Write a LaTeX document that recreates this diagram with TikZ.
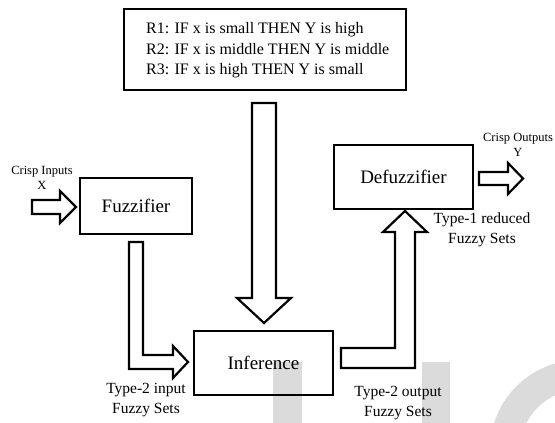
\documentclass[tikz,border=0pt]{standalone}
\usepackage{fontspec}
\setmainfont{Liberation Serif}
\begin{document}
\begin{tikzpicture}[x=1pt,y=-1pt,
  box/.style={draw=black,line width=2.6pt,minimum width=#1,inner sep=0pt},
  blk/.style={draw=black,line width=2.2pt,fill=white,line join=miter},
  wm/.style={fill=black!14,draw=none},
  lbl/.style={font=\fontsize{15.5}{20}\selectfont,align=center,inner sep=0pt},
  sml/.style={font=\fontsize{12.5}{15}\selectfont,align=center,inner sep=0pt}]
\useasboundingbox (0,0) rectangle (555,423);
% watermark
\fill[wm] (273,362) rectangle (302,423);
\fill[wm] (422,362) rectangle (450,423);
\begin{scope}
\clip (0,0) rectangle (555,423);
\fill[wm,even odd rule] (580,450) circle[radius=90] (580,450) circle[radius=60];
\end{scope}
% boxes
\node[box=282pt,minimum height=81pt] (rules) at (265,49.5) {};
\node[align=left,anchor=west,inner sep=0pt,font=\fontsize{16}{20.5}\selectfont] (rtext) at (146,50.5)
  {R1: IF x is small THEN Y is high\\R2: IF x is middle THEN Y is middle\\R3: IF x is high THEN Y is small};
\node[box=112pt,minimum height=56pt,font=\fontsize{19}{22}\selectfont] (fuzz) at (136,206) {Fuzzifier};
\node[box=139pt,minimum height=64pt,font=\fontsize{19}{22}\selectfont] (inf) at (263.5,363) {Inference};
\node[box=139pt,minimum height=64pt,font=\fontsize{19}{22}\selectfont] (defuz) at (403.5,177) {Defuzzifier};
% labels
\node[sml] (cin) at (42,178) {Crisp Inputs\\X};
\node[sml] (cout) at (518,145) {Crisp Outputs\\Y};
\node[lbl] (t1) at (482,229.5) {Type-1 reduced\\Fuzzy Sets};
\node[lbl] (t2i) at (146,400.5) {Type-2 input\\Fuzzy Sets};
\node[lbl] (t2o) at (398,403) {Type-2 output\\Fuzzy Sets};
% block arrows
\draw[blk] (32,200) -- (60,200) -- (60,191) -- (76,207) -- (60,223) -- (60,214) -- (32,214) -- cycle;
\draw[blk] (479,172) -- (508,172) -- (508,163) -- (523,178.5) -- (508,194) -- (508,185) -- (479,185) -- cycle;
\draw[blk] (252,103) -- (276,103) -- (276,298) -- (291,298) -- (264,323) -- (237,298) -- (252,298) -- cycle;
\draw[blk] (129,242) -- (143,242) -- (143,355) -- (173,355) -- (173,346) -- (188,362) -- (173,378) -- (173,369) -- (129,369) -- cycle;
\draw[blk] (341,348) -- (395,348) -- (395,232) -- (383,232) -- (405,211) -- (427,232) -- (415,232) -- (415,368) -- (341,368) -- cycle;
\end{tikzpicture}
\end{document}
